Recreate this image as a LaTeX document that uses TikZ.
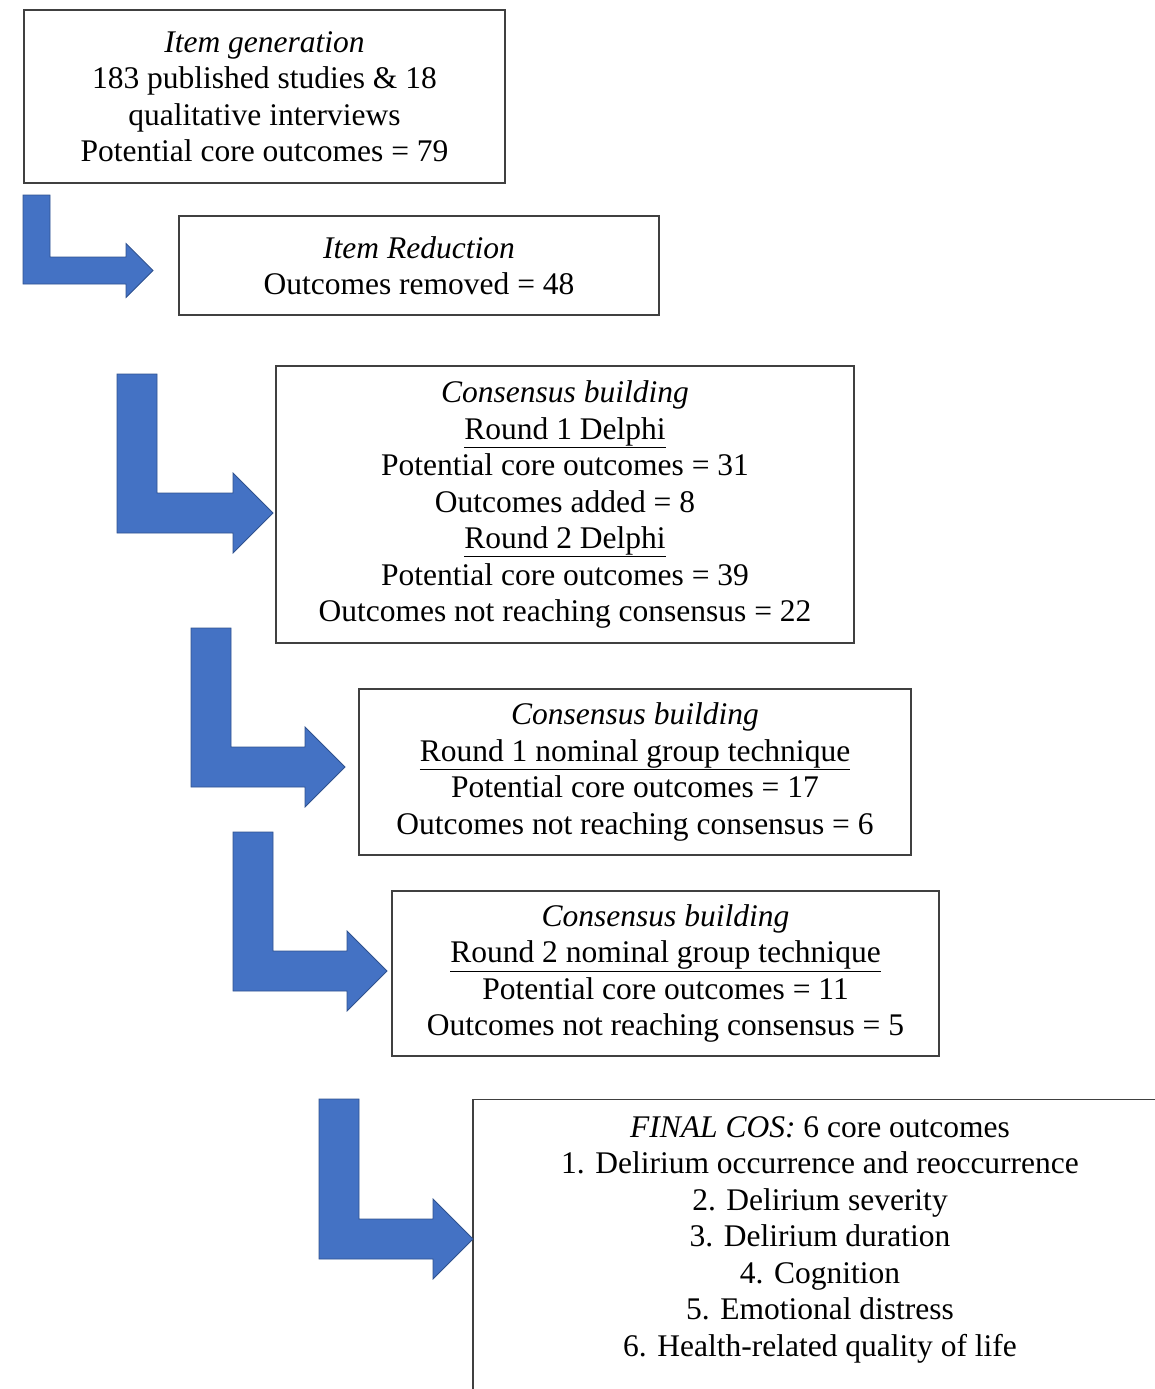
\documentclass[tikz,border=0pt]{standalone}
\usepackage{fontspec}
\setmainfont{Liberation Serif}
\usepackage{tikz}
\usetikzlibrary{arrows.meta, positioning}

\definecolor{arrowfill}{RGB}{68,114,196}
\definecolor{arrowline}{RGB}{47,82,143}

\tikzset{
    stagebox/.style={draw=black!75, line width=1.2pt, align=center, inner sep=0pt,
        font=\fontsize{31.5}{36.5}\selectfont},
    bentarrow/.style={fill=arrowfill, draw=arrowline, line width=0.8pt, line join=miter}
}

% bent arrow: left x, top y, bottom y, tip x, bar width
\newcommand{\bentarrow}[5]{%
    \draw[bentarrow] (#1,#2) -- ({#1+#5},#2) -- ({#1+#5},{#3-#5}) -- ({#4-#5},{#3-#5})
        -- ({#4-#5},{#3-1.5*#5}) -- (#4,{#3-0.5*#5}) -- ({#4-#5},{#3+0.5*#5})
        -- ({#4-#5},#3) -- (#1,#3) -- cycle;}

\begin{document}
\begin{tikzpicture}[x=1pt, y=-1pt]
    \useasboundingbox (0,0) rectangle (1155,1389);

    % stages
    \node[stagebox, minimum width=481, minimum height=173] (gen) at (264.5,96.5)
        {\textit{Item generation}\\ 183 published studies \& 18\\ qualitative interviews\\
         Potential core outcomes = 79};
    \node[stagebox, minimum width=480, minimum height=99] (reduce) at (419,265.5)
        {\textit{Item Reduction}\\ Outcomes removed = 48};
    \node[stagebox, minimum width=578, minimum height=277] (delphi) at (565,504.5)
        {\textit{Consensus building}\\ \underline{Round 1 Delphi}\\ Potential core outcomes = 31\\
         Outcomes added = 8\\ \underline{Round 2 Delphi}\\ Potential core outcomes = 39\\
         Outcomes not reaching consensus = 22};
    \node[stagebox, minimum width=552, minimum height=166] (ngtone) at (635,772)
        {\textit{Consensus building}\\ \underline{Round 1 nominal group technique}\\
         Potential core outcomes = 17\\ Outcomes not reaching consensus = 6};
    \node[stagebox, minimum width=547, minimum height=165] (ngttwo) at (665.5,973.5)
        {\textit{Consensus building}\\ \underline{Round 2 nominal group technique}\\
         Potential core outcomes = 11\\ Outcomes not reaching consensus = 5};

    % final set, runs off the page
    \node[stagebox, anchor=north, minimum width=694, inner ysep=17pt] (final) at (820,1099)
        {\textit{FINAL COS:} 6 core outcomes\\ 1. Delirium occurrence and reoccurrence\\
         2. Delirium severity\\ 3. Delirium duration\\ 4. Cognition\\
         5. Emotional distress\\ 6. Health-related quality of life\\ \rule{0pt}{60pt}};

    % arrows
    \bentarrow{23}{195}{284}{153}{27}
    \bentarrow{117}{374}{533}{273}{40}
    \bentarrow{191}{628}{787}{345}{40}
    \bentarrow{233}{832}{991}{387}{40}
    \bentarrow{319}{1099}{1259}{473}{40}
\end{tikzpicture}
\end{document}
